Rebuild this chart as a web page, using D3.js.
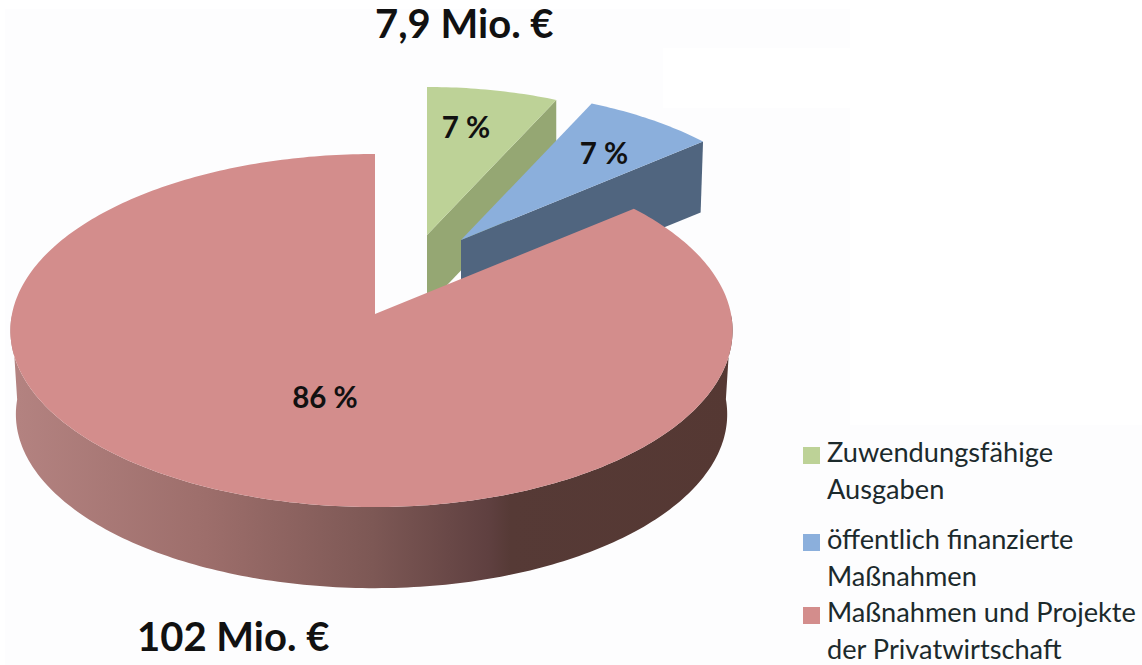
<!DOCTYPE html>
<html>
<head>
<meta charset="utf-8">
<script src="https://cdn.jsdelivr.net/npm/d3@7"></script>
<style>
  html, body { margin: 0; padding: 0; background: #fff; }
  svg { display: block; }
  text { font-family: Lato, "Open Sans", sans-serif; fill: #111; }
  .title { font-size: 40px; font-weight: 700; }
  .pct { font-size: 29.5px; font-weight: 700; }
  .legend { font-size: 27.2px; fill: #1c2a2c; }
</style>
</head>
<body>
<svg id="chart"></svg>
<script>
const width = 1142, height = 665;

// Chart data
const categories = ["Zuwendungsfähige Ausgaben", "öffentlich finanzierte Maßnahmen", "Maßnahmen und Projekte der Privatwirtschaft"];
const shares = [7, 7, 86];
const shareLabels = ["7 %", "7 %", "86 %"];
const amountLabels = ["7,9 Mio. €", "102 Mio. €"];
const legendLines = [["Zuwendungsfähige", "Ausgaben"], ["öffentlich finanzierte", "Maßnahmen"], ["Maßnahmen und Projekte", "der Privatwirtschaft"]];

const topColor = d3.scaleOrdinal().domain(categories).range(["#bdd297", "#8bafdc", "#d38d8c"]);
const sideColor = d3.scaleOrdinal().domain(categories).range(["#95a773", "#50657f", "url(#redSide)"]);

const svg = d3.select("#chart")
    .attr("width", width)
    .attr("height", height)
    .attr("viewBox", [0, 0, width, height]);

// Scanned page background: faint off-white with a few pure white patches
svg.append("rect").attr("x", 5).attr("y", 9).attr("width", 845).attr("height", 656).attr("fill", "#fdfdfe");
svg.append("rect").attr("x", 5).attr("y", 425).attr("width", 1137).attr("height", 240).attr("fill", "#fdfdfe");
svg.append("rect").attr("x", 663).attr("y", 48).attr("width", 187).attr("height", 60).attr("fill", "#ffffff");

// Gradient on the red rim
const grad = svg.append("defs").append("linearGradient")
    .attr("id", "redSide")
    .attr("gradientUnits", "userSpaceOnUse")
    .attr("x1", 10).attr("x2", 735).attr("y1", 0).attr("y2", 0);
[[0, "#b48381"], [0.27, "#9d6e6b"], [0.5, "#7d5855"], [0.66, "#5f4040"], [0.69, "#563a36"], [1, "#553833"]].forEach(s => {
    grad.append("stop").attr("offset", s[0]).attr("stop-color", s[1]);
});

// Perspective tilt: maps a pie angle onto the slanted disc, relative to the apex
const persp = 0.0935, radiusY = 175;
const radiusRight = 356, radiusLeft = 363;

function project(angle) {
    const u = Math.sin(angle), v = Math.cos(angle), w = 1 + persp * v;
    return [(u > 0 ? radiusRight : radiusLeft) * u / w, -radiusY * v / w];
}

const pie = d3.pie().sort(null).value(d => d)(shares);
const line = d3.line();

// Outer arc points of one slice
function arcPoints(d) {
    const n = Math.ceil((d.endAngle - d.startAngle) * 60);
    return d3.range(n + 1).map(i => project(d.startAngle + (d.endAngle - d.startAngle) * i / n));
}

// Per-slice placement: the two small wedges are pulled out and sit further back
const placement = [
    { x: 427, y: 235, scale: 0.925, depth: 71, rim: 1 },
    { x: 461, y: 240, scale: 0.935, depth: 70, rim: 0.99 },
    { x: 375, y: 314, scale: 1, depth: 84, rim: 0.985 }
];

function place(p, pt, lower) {
    const s = p.scale * (lower ? p.rim : 1);
    return [p.x + pt[0] * s, p.y + pt[1] * s + (lower ? p.depth : 0)];
}

const slices = svg.append("g").selectAll("g")
    .data(pie)
    .enter()
    .append("g");

// Rim: only the part that faces the viewer, or the cut face on the wedges
slices.append("path")
    .attr("fill", (d, i) => sideColor(categories[i]))
    .attr("d", (d, i) => {
        const p = placement[i], pts = arcPoints(d);
        if (i < 2) {
            const end = pts[pts.length - 1];
            return line([[p.x, p.y], place(p, end, false), place(p, end, true), place(p, [0, 0], true)]) + "Z";
        }
        const vis = pts.filter(q => q[1] >= 0);
        return line(vis.map(q => place(p, q, false)).concat(vis.slice().reverse().map(q => place(p, q, true)))) + "Z";
    });

// Top face
slices.append("path")
    .attr("fill", (d, i) => topColor(categories[i]))
    .attr("d", (d, i) => {
        const p = placement[i];
        return line([[p.x, p.y]].concat(arcPoints(d).map(q => place(p, q, false)))) + "Z";
    });

// Percentage labels
const labelPos = [[466, 138], [604, 164], [325, 408]];
svg.append("g").selectAll("text")
    .data(shareLabels)
    .enter()
    .append("text")
    .attr("class", "pct")
    .attr("text-anchor", "middle")
    .attr("x", (d, i) => labelPos[i][0])
    .attr("y", (d, i) => labelPos[i][1])
    .text(d => d);

// Amount labels
const amountPos = [[375, 38], [137, 651]];
svg.append("g").selectAll("text")
    .data(amountLabels)
    .enter()
    .append("text")
    .attr("class", "title")
    .attr("x", (d, i) => amountPos[i][0])
    .attr("y", (d, i) => amountPos[i][1])
    .text(d => d);

// Legend
const legendY = [462, 549, 622];
const lineGap = 37;
const legend = svg.append("g").selectAll("g")
    .data(categories)
    .enter()
    .append("g");

legend.append("rect")
    .attr("x", 803)
    .attr("y", (d, i) => legendY[i] - 15)
    .attr("width", 17)
    .attr("height", 17)
    .attr("fill", d => topColor(d));

legend.selectAll("text")
    .data((d, i) => legendLines[i].map((t, j) => ({ t, y: legendY[i] + j * lineGap })))
    .enter()
    .append("text")
    .attr("class", "legend")
    .attr("x", 827)
    .attr("y", d => d.y)
    .text(d => d.t);
</script>
</body>
</html>
